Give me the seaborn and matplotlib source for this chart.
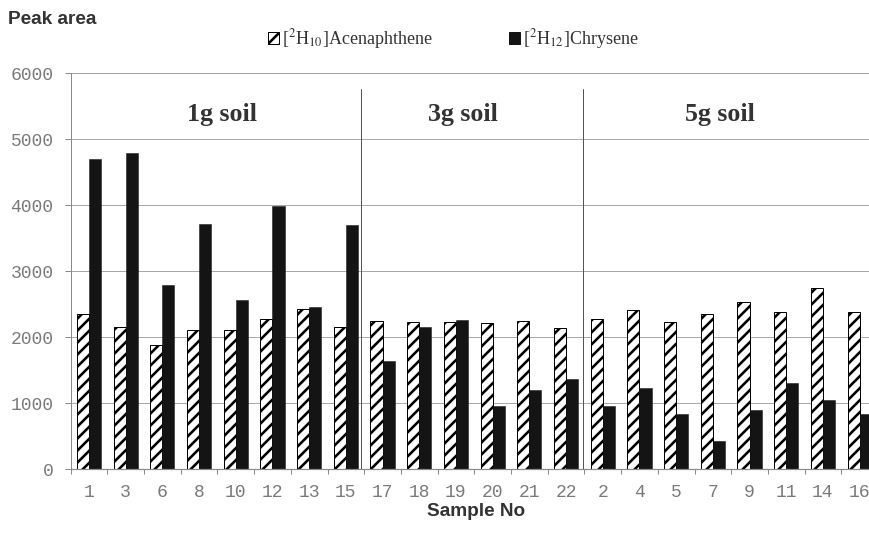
import numpy as np
import pandas as pd
import matplotlib
matplotlib.use("Agg")
import matplotlib.pyplot as plt
import seaborn as sns
from matplotlib.patches import Patch

# ---- data ----
samples = ["1", "3", "6", "8", "10", "12", "13", "15",
           "17", "18", "19", "20", "21", "22",
           "2", "4", "5", "7", "9", "11", "14", "16"]
acenaphthene = [2350, 2150, 1880, 2100, 2100, 2280, 2420, 2150,
                2250, 2220, 2220, 2210, 2240, 2130,
                2270, 2410, 2225, 2350, 2525, 2380, 2750, 2380]
chrysene = [4700, 4790, 2790, 3710, 2555, 3990, 2450, 3700,
            1640, 2150, 2260, 960, 1190, 1370,
            960, 1225, 830, 430, 890, 1300, 1040, 840]
series_names = [r"[$^{2}$H$_{10}$]Acenaphthene", r"[$^{2}$H$_{12}$]Chrysene"]
group_labels = ["1g soil", "3g soil", "5g soil"]
y_ticks = [0, 1000, 2000, 3000, 4000, 5000, 6000]

df = pd.DataFrame({
    "Sample": samples * 2,
    "Peak": acenaphthene + chrysene,
    "Series": [series_names[0]] * len(samples) + [series_names[1]] * len(samples),
})

sns.set_style("white")
plt.rcParams["hatch.linewidth"] = 2.6
plt.rcParams["hatch.color"] = "black"
plt.rcParams["mathtext.fontset"] = "stix"

DPI = 72
fig = plt.figure(figsize=(869 / DPI, 547 / DPI), dpi=DPI)
ax = fig.add_axes([70.6 / 869, 78 / 547, (878 - 70.6) / 869, (469 - 73) / 547])

sns.barplot(data=df, x="Sample", y="Peak", hue="Series", order=samples,
            hue_order=series_names, palette=["white", "#141414"],
            width=0.66, gap=0, saturation=1, errorbar=None, ax=ax, legend=False)

for bar in ax.containers[0]:
    bar.set_hatch("//")
    bar.set_edgecolor("black")
    bar.set_linewidth(1.0)
for bar in ax.containers[1]:
    bar.set_edgecolor("#141414")
    bar.set_linewidth(0.5)

ax.set_xlim(-0.5, len(samples) - 0.5)
ax.set_ylim(0, 6000)
ax.set_yticks(y_ticks)
ax.set_yticklabels([str(v) for v in y_ticks])

# grid
for v in y_ticks[1:]:
    ax.axhline(v, color="#555555" if v < 6000 else "#444444", lw=1.0,
               ls=(0, (1, 1)), zorder=0)

for s in ["top", "right"]:
    ax.spines[s].set_visible(False)
ax.spines["left"].set_color("#8a8a8a")
ax.spines["left"].set_linewidth(1.0)
ax.spines["bottom"].set_color("#8a8a8a")
ax.spines["bottom"].set_linestyle((0, (1, 1)))
ax.spines["bottom"].set_linewidth(1.2)

mono = "Liberation Mono"
ax.tick_params(axis="y", length=6, width=1, color="#8a8a8a", pad=11,
               labelsize=18, labelcolor="#7a7a7a", left=True)
ax.tick_params(axis="x", which="major", length=0, pad=15,
               labelsize=18, labelcolor="#7a7a7a")
ax.set_xticks(np.arange(-0.5, len(samples), 1), minor=True)
ax.tick_params(axis="x", which="minor", length=5, width=1, color="#8a8a8a", bottom=True)
for lab in ax.get_xticklabels() + ax.get_yticklabels():
    lab.set_fontfamily(mono)

ax.set_xlabel("")
ax.set_ylabel("")

# group separators and labels
for xv in [7.42, 13.46]:
    ax.plot([xv, xv], [0, 5760], color="#555555", lw=1.0, zorder=3)
for xv, lab in zip([3.63, 10.2, 17.2], group_labels):
    ax.text(xv, 5370, lab, ha="center", va="center", fontsize=26,
            fontfamily="Liberation Serif", fontweight="bold", color="#333333")

# titles
fig.text(8 / 869, 1 - 20 / 547, "Peak area", ha="left", va="center",
         fontsize=19, fontweight="bold", fontfamily="Liberation Sans", color="#333333")
fig.text(476 / 869, 1 - 511 / 547, "Sample No", ha="center", va="center",
         fontsize=19, fontweight="bold", fontfamily="Liberation Sans", color="#333333")

handles = [Patch(facecolor="white", edgecolor="black", hatch="//", linewidth=1.0),
           Patch(facecolor="#141414", edgecolor="#141414")]
anchors = [268 / 869, 509 / 869]
for h, name, xa in zip(handles, series_names, anchors):
    leg = fig.legend([h], [name], loc="center left",
                     bbox_to_anchor=(xa, 1 - 39 / 547), frameon=False,
                     borderpad=0, borderaxespad=0, handlelength=0.6, handleheight=0.6,
                     handletextpad=0.2,
                     prop={"family": "Liberation Serif", "size": 18})
    for t in leg.get_texts():
        t.set_color("#333333")

fig.savefig("out.png", dpi=DPI)
